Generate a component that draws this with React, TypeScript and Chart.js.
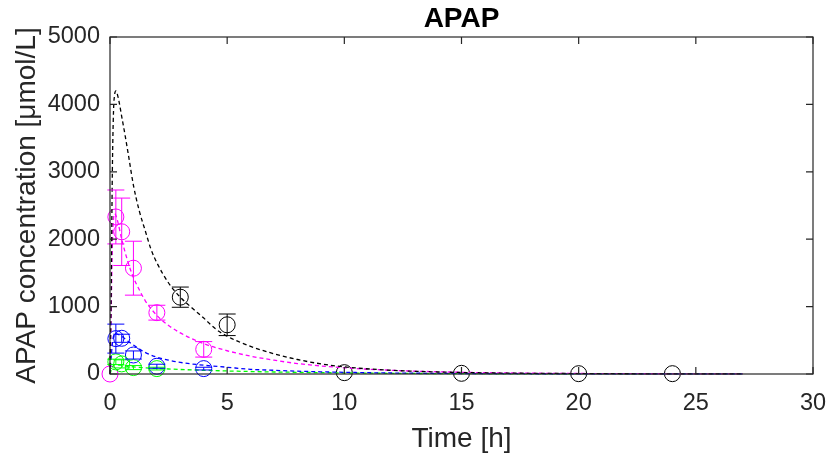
import { useEffect, useRef } from "react";
import { Chart, registerables } from "chart.js";

Chart.register(...registerables);

const FONT = '"Liberation Sans", Arial, Helvetica, sans-serif';
const AXIS_COLOR = "#262626";

const titleText = "APAP";
const xTitle = "Time [h]";
const yTitle = "APAP concentration [\u03bcmol/L]";

const xTicks = [0, 5, 10, 15, 20, 25, 30];
const yTicks = [0, 1000, 2000, 3000, 4000, 5000];

// model curves
const fitTimeBlack = [0, 0.05, 0.1, 0.15, 0.2, 0.25, 0.35, 0.5, 0.65, 0.8, 1, 1.25, 1.5, 1.75, 2, 2.5, 3, 3.5, 4, 4.5, 5, 6, 7, 8, 9, 10, 12, 14, 16, 18, 21, 24, 27];
const fitBlack = [0, 1200, 3000, 3900, 4150, 4200, 4100, 3820, 3530, 3220, 2800, 2420, 2130, 1850, 1650, 1350, 1140, 980, 830, 670, 560, 410, 300, 215, 150, 105, 55, 30, 17, 10, 5, 2, 1];

const fitTimeMagenta = [0, 0.05, 0.1, 0.15, 0.2, 0.3, 0.5, 0.75, 1, 1.25, 1.5, 2, 2.5, 3, 4, 5, 6, 7, 8, 10, 12, 15, 18, 21, 24, 27];
const fitMagenta = [0, 900, 1900, 2300, 2380, 2300, 2000, 1680, 1430, 1250, 1090, 870, 720, 610, 450, 345, 265, 205, 155, 92, 55, 25, 12, 6, 3, 1];

const fitTime = [0, 0.1, 0.2, 0.5, 0.75, 1, 1.5, 2, 2.5, 3, 4, 5, 6, 7, 8, 10, 12, 15, 18, 21, 24, 27];
const fitBlue = [0, 450, 600, 560, 490, 430, 320, 250, 205, 172, 130, 100, 70, 55, 42, 25, 15, 7, 4, 2, 1, 0.5];
const fitGreen = [0, 100, 140, 130, 115, 105, 92, 82, 74, 67, 55, 45, 37, 30, 25, 16, 10, 5, 3, 1.5, 1, 0.5];

// observations with standard errors
const obsTimeBlack = [3, 5, 10, 15, 20, 24];
const obsBlack = [1140, 730, 20, 10, 5, 5];
const errBlack = [150, 160, 0, 0, 0, 0];

const obsTimeMagenta = [0, 0.25, 0.5, 1, 2, 4];
const obsMagenta = [0, 2330, 2110, 1570, 910, 366];
const errMagenta = [0, 400, 500, 400, 110, 115];

const obsTimeBlue = [0.25, 0.5, 1, 2, 4];
const obsBlue = [525, 530, 282, 115, 80];
const errBlue = [215, 60, 60, 30, 20];

const obsTimeGreen = [0.25, 0.5, 1, 2];
const obsGreen = [180, 150, 95, 80];
const errGreen = [40, 60, 30, 20];

const BLACK = "#000000";
const MAGENTA = "#ff00ff";
const BLUE = "#0000ff";
const GREEN = "#00ff00";

const toXY = (xs: number[], ys: number[]) => xs.map((x, i) => ({ x, y: ys[i] }));

const fitDs = (xs: number[], ys: number[], color: string) => ({
  data: toXY(xs, ys),
  showLine: true,
  borderColor: color,
  borderWidth: 1.3,
  borderDash: [4, 3],
  pointRadius: 0,
  cubicInterpolationMode: "monotone" as const,
  clip: false as const,
  errors: null as number[] | null,
});

const obsDs = (xs: number[], ys: number[], errs: number[], color: string) => ({
  data: toXY(xs, ys),
  showLine: false,
  borderColor: color,
  backgroundColor: "rgba(0,0,0,0)",
  pointRadius: 8,
  pointBorderWidth: 1,
  pointStyle: "circle" as const,
  clip: false as const,
  errors: errs,
});

const matlabPlugin = {
  id: "matlabAxes",
  afterDatasetsDraw(chart: any) {
    const { ctx, scales } = chart;
    const xs = scales.x;
    const ys = scales.y;
    chart.data.datasets.forEach((ds: any) => {
      if (!ds.errors) return;
      ctx.save();
      ctx.strokeStyle = ds.borderColor;
      ctx.lineWidth = 1;
      ds.data.forEach((p: any, i: number) => {
        const e = ds.errors[i];
        if (!e) return;
        const px = xs.getPixelForValue(p.x);
        const top = ys.getPixelForValue(p.y + e);
        const bot = ys.getPixelForValue(p.y - e);
        const cap = 8.5;
        ctx.beginPath();
        ctx.moveTo(px, top);
        ctx.lineTo(px, bot);
        ctx.moveTo(px - cap, top);
        ctx.lineTo(px + cap, top);
        ctx.moveTo(px - cap, bot);
        ctx.lineTo(px + cap, bot);
        ctx.stroke();
      });
      ctx.restore();
    });
  },
  afterDraw(chart: any) {
    const { ctx, chartArea: a, scales } = chart;
    ctx.save();
    ctx.strokeStyle = AXIS_COLOR;
    ctx.lineWidth = 1.2;
    ctx.strokeRect(a.left, a.top, a.right - a.left, a.bottom - a.top);
    const tl = 7;
    ctx.beginPath();
    xTicks.forEach((v) => {
      const px = scales.x.getPixelForValue(v);
      ctx.moveTo(px, a.bottom);
      ctx.lineTo(px, a.bottom - tl);
      ctx.moveTo(px, a.top);
      ctx.lineTo(px, a.top + tl);
    });
    yTicks.forEach((v) => {
      const py = scales.y.getPixelForValue(v);
      ctx.moveTo(a.left, py);
      ctx.lineTo(a.left + tl, py);
      ctx.moveTo(a.right, py);
      ctx.lineTo(a.right - tl, py);
    });
    ctx.stroke();
    ctx.restore();
  },
};

export default function App() {
  const ref = useRef<HTMLCanvasElement | null>(null);
  useEffect(() => {
    if (!ref.current) return;
    const chart = new Chart(ref.current, {
      type: "scatter",
      data: {
        datasets: [
          fitDs(fitTimeBlack, fitBlack, BLACK),
          fitDs(fitTimeMagenta, fitMagenta, MAGENTA),
          fitDs(fitTime, fitBlue, BLUE),
          fitDs(fitTime, fitGreen, GREEN),
          obsDs(obsTimeBlack, obsBlack, errBlack, BLACK),
          obsDs(obsTimeGreen, obsGreen, errGreen, GREEN),
          obsDs(obsTimeBlue, obsBlue, errBlue, BLUE),
          obsDs(obsTimeMagenta, obsMagenta, errMagenta, MAGENTA),
        ] as any,
      },
      options: {
        animation: false,
        responsive: false,
        devicePixelRatio: 1,
        layout: { padding: { left: 0, right: 16, top: 0, bottom: 0 } },
        plugins: {
          legend: { display: false },
          tooltip: { enabled: false },
          title: {
            display: true,
            text: titleText,
            fullSize: false,
            color: "#000",
            font: { family: FONT, size: 28, weight: "bold", lineHeight: 1 },
            padding: { top: 5, bottom: 4 },
          },
        },
        scales: {
          x: {
            type: "linear",
            min: 0,
            max: 30,
            afterBuildTicks: (s: any) => {
              s.ticks = xTicks.map((v) => ({ value: v }));
            },
            afterFit: (s: any) => {
              s.height = 81;
              s.paddingLeft = 0;
              s.paddingRight = 0;
            },
            grid: { display: false, drawTicks: false },
            border: { display: false },
            ticks: {
              color: AXIS_COLOR,
              padding: 15,
              maxRotation: 0,
              autoSkip: false,
              callback: (v: any) => String(v),
              font: { family: FONT, size: 23.5 },
            },
            title: {
              display: true,
              text: xTitle,
              color: AXIS_COLOR,
              font: { family: FONT, size: 28, lineHeight: 1 },
              padding: { top: 0, bottom: 2 },
            },
          },
          y: {
            type: "linear",
            min: 0,
            max: 5000,
            afterBuildTicks: (s: any) => {
              s.ticks = yTicks.map((v) => ({ value: v }));
            },
            afterFit: (s: any) => {
              s.width = 110;
              s.paddingTop = 0;
              s.paddingBottom = 0;
            },
            grid: { display: false, drawTicks: false },
            border: { display: false },
            ticks: {
              color: AXIS_COLOR,
              padding: 10,
              autoSkip: false,
              callback: (v: any) => String(v),
              font: { family: FONT, size: 23.5 },
            },
            title: {
              display: true,
              text: yTitle,
              color: AXIS_COLOR,
              font: { family: FONT, size: 28, lineHeight: 1 },
              padding: { top: 13, bottom: 0 },
            },
          },
        },
      },
      plugins: [matlabPlugin],
    });
    return () => chart.destroy();
  }, []);
  return (
    <div style={{ position: "absolute", left: 0, top: 0, width: 829, height: 455, background: "#fff" }}>
      <canvas ref={ref} width={829} height={455} style={{ display: "block" }} />
    </div>
  );
}
